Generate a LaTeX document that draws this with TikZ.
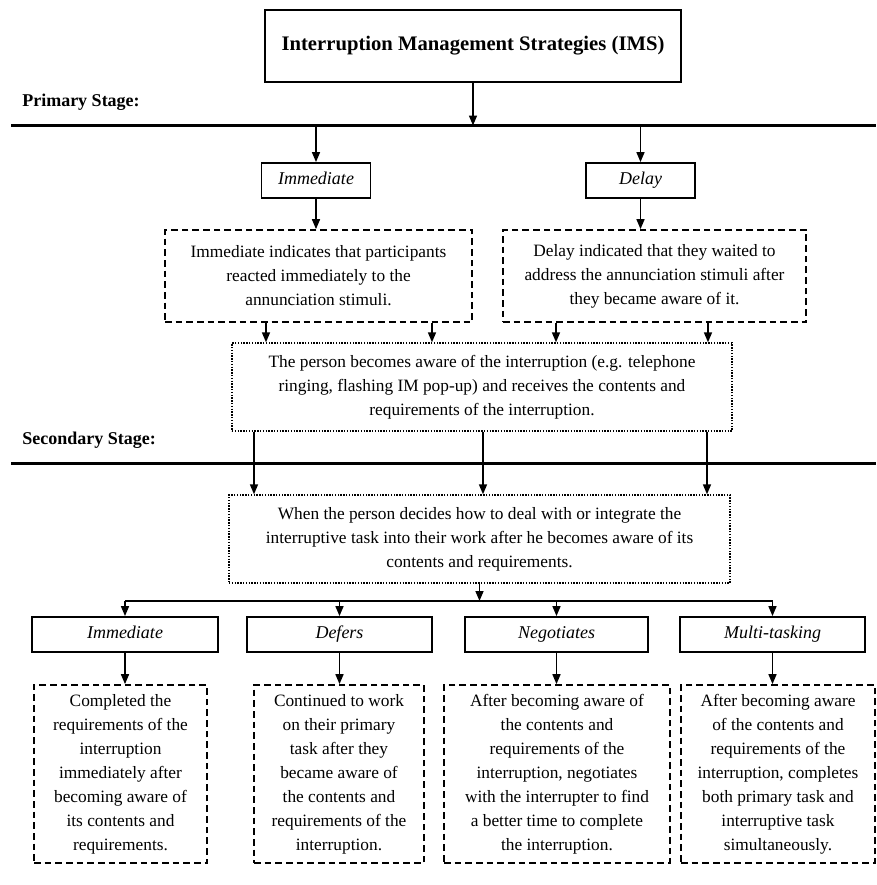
\documentclass[tikz,border=0pt]{standalone}
\usepackage{fontspec}
\setmainfont{Liberation Serif}
\usepackage{tikz}
\usetikzlibrary{arrows.meta}

\begin{document}
\begin{tikzpicture}[x=0.75pt,y=-0.75pt,
    every node/.style={font=\fontsize{13}{18}\selectfont},
    plainbox/.style={draw,line width=1.4pt,inner sep=0pt,align=center,minimum height=26.25pt,
      text height=9.5pt,text depth=3pt,font=\fontsize{13.5}{18}\selectfont\itshape},
    dashbox/.style={draw,line width=1.3pt,dash pattern=on 5pt off 3pt,inner sep=0pt,align=center},
    dotbox/.style={draw,line width=1pt,dash pattern=on 1pt off 1.1pt,inner sep=0pt,align=center},
    stagelabel/.style={anchor=west,inner sep=0pt,font=\fontsize{13.5}{15}\selectfont\bfseries},
    rule/.style={line width=1.6pt},
    arr/.style={line width=1.2pt,-{Triangle[length=7.5pt,width=6pt]}}]
  \useasboundingbox (0,0) rectangle (876,885);
  % primary stage
  \node[draw,line width=1.4pt,minimum width=312pt,minimum height=54pt,inner sep=0pt,
    font=\fontsize{15.5}{17}\selectfont\bfseries] (title) at (473,46) {Interruption Management Strategies (IMS)};
  \node[stagelabel] (primary) at (22,102) {Primary Stage:};
  \coordinate (rule1a) at (11,125.5);
  \coordinate (rule1b) at (876,125.5);
  \draw[rule] (rule1a) -- (rule1b);
  \node[plainbox,minimum width=81.75pt] (imm1) at (316,180.5) {Immediate};
  \node[plainbox,minimum width=81.75pt] (delay) at (640.5,180.5) {Delay};
  \node[dashbox,minimum width=230.25pt,minimum height=69pt] (dash1) at (318.5,276)
    {Immediate indicates that participants\\reacted immediately to the\\annunciation stimuli.};
  \node[dashbox,minimum width=227.25pt,minimum height=69pt] (dash2) at (654.5,276)
    {Delay indicated that they waited to\\address the annunciation stimuli after\\they became aware of it.};
  \node[dotbox,minimum width=375pt,minimum height=66pt] (dot1) at (482,387)
    {The person becomes aware of the interruption (e.g. telephone\\ringing, flashing IM pop-up) and receives the contents and\\requirements of the interruption.};
  \draw[arr] (title.south) -- (title.south |- rule1a);
  \draw[arr] (imm1.north |- rule1a) -- (imm1.north);
  \draw[arr] (delay.north |- rule1a) -- (delay.north);
  \draw[arr] (imm1.south) -- (imm1.south |- dash1.north);
  \draw[arr] (delay.south) -- (delay.south |- dash2.north);
  \foreach \x in {266,432} \draw[arr] (\x,0 |- dash1.south) -- (\x,0 |- dot1.north);
  \foreach \x in {556,708} \draw[arr] (\x,0 |- dash2.south) -- (\x,0 |- dot1.north);
  % secondary stage
  \node[stagelabel] (secondary) at (22,440) {Secondary Stage:};
  \coordinate (rule2a) at (11,463.5);
  \coordinate (rule2b) at (876,463.5);
  \draw[rule] (rule2a) -- (rule2b);
  \node[dotbox,minimum width=375.75pt,minimum height=66pt] (dot2) at (479.5,539)
    {When the person decides how to deal with or integrate the\\interruptive task into their work after he becomes aware of its\\contents and requirements.};
  \foreach \x in {254,483,707} \draw[arr] (\x,0 |- dot1.south) -- (\x,0 |- dot2.north);
  \node[plainbox,minimum width=139.5pt] (s1) at (125,634.5) {Immediate};
  \node[plainbox,minimum width=138.75pt] (s2) at (339.5,634.5) {Defers};
  \node[plainbox,minimum width=137.25pt] (s3) at (556.5,634.5) {Negotiates};
  \node[plainbox,minimum width=138.75pt] (s4) at (772.5,634.5) {Multi-tasking};
  \node[dashbox,minimum width=129.75pt,minimum height=133.5pt] (b1) at (120.5,774)
    {Completed the\\requirements of the\\interruption\\immediately after\\becoming aware of\\its contents and\\requirements.};
  \node[dashbox,minimum width=127.5pt,minimum height=133.5pt] (b2) at (339,774)
    {Continued to work\\on their primary\\task after they\\became aware of\\the contents and\\requirements of the\\interruption.};
  \node[dashbox,minimum width=169.5pt,minimum height=133.5pt] (b3) at (557,774)
    {After becoming aware of\\the contents and\\requirements of the\\interruption, negotiates\\with the interrupter to find\\a better time to complete\\the interruption.};
  \node[dashbox,minimum width=145.5pt,minimum height=133.5pt] (b4) at (778,774)
    {After becoming aware\\of the contents and\\requirements of the\\interruption, completes\\both primary task and\\interruptive task\\simultaneously.};
  \coordinate (bus) at (0,601);
  \draw[rule] (s1.north |- bus) -- (s4.north |- bus);
  \draw[arr] (dot2.south) -- (dot2.south |- bus);
  \foreach \n/\m in {s1/b1,s2/b2,s3/b3,s4/b4} {
    \draw[arr] (\n.north |- bus) -- (\n.north);
    \draw[arr] (\n.south) -- (\n.south |- \m.north);
  }
\end{tikzpicture}
\end{document}
